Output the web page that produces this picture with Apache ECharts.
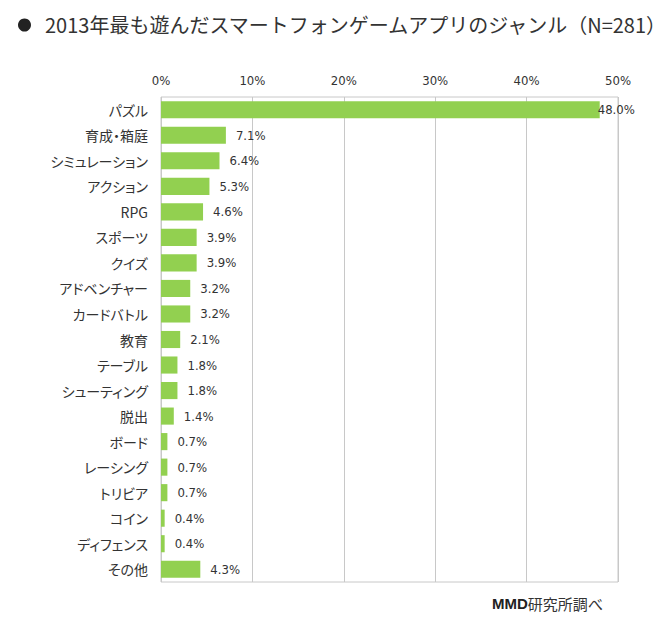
<!DOCTYPE html>
<html><head><meta charset="utf-8">
<script src="https://cdn.jsdelivr.net/npm/echarts@6/dist/echarts.min.js"></script>
<style>html,body{margin:0;padding:0;background:#fff}#c{width:672px;height:620px}
#c svg text{font-feature-settings:"palt" 1;}</style>
</head><body><div id="c"></div>
<script>
const categories = ['パズル','育成・箱庭','シミュレーション','アクション','RPG','スポーツ','クイズ','アドベンチャー','カードバトル','教育','テーブル','シューティング','脱出','ボード','レーシング','トリビア','コイン','ディフェンス','その他'];
const values = [48.0,7.1,6.4,5.3,4.6,3.9,3.9,3.2,3.2,2.1,1.8,1.8,1.4,0.7,0.7,0.7,0.4,0.4,4.3];
const tickMin = 0, tickMax = 50, tickStep = 10;
const title = '2013年最も遊んだスマートフォンゲームアプリのジャンル（N=281）';
const sourceBold = 'MMD', sourceRest = '研究所調べ';

const jp = '"Noto Sans CJK JP", "Noto Sans", sans-serif';
const num = '"Liberation Sans Narrow", "DejaVu Sans Condensed", "Liberation Sans", sans-serif';
const chart = echarts.init(document.getElementById('c'), null, {renderer:'svg'});
chart.setOption({
  animation:false,
  backgroundColor:'#fff',
  graphic:[
    {type:'circle', shape:{cx:24.5, cy:25, r:6.5}, style:{fill:'#222'}},
    {type:'text', x:45, y:24, style:{text:title, font:'20px '+jp, fill:'#333', textVerticalAlign:'middle'}},
    {type:'text', x:492, y:603, style:{textVerticalAlign:'middle', rich:{b:{fontFamily:'Arial, "Liberation Sans", sans-serif', fontWeight:'bold', fontSize:15, fill:'#222'}, r:{fontFamily:jp, fontSize:15, fill:'#333'}}, text:'{b|'+sourceBold+'}{r|'+sourceRest+'}'}}
  ],
  grid:{left:161, right:54, top:97, bottom:38, show:true, borderColor:'#c8c8c8', borderWidth:1, containLabel:false},
  xAxis:{type:'value', position:'top', min:tickMin, max:tickMax, interval:tickStep,
    axisLine:{show:false}, axisTick:{show:false},
    axisLabel:{formatter:'{value}%', color:'#333', fontFamily:num, fontSize:13, margin:10},
    splitLine:{lineStyle:{color:'#c8c8c8', width:1}}},
  yAxis:{type:'category', inverse:true, data:categories,
    axisLine:{show:false}, axisTick:{show:false},
    axisLabel:{color:'#333', fontFamily:jp, fontSize:14, margin:13}},
  series:[{type:'bar', barCategoryGap:'33%',
    itemStyle:{color:'#92d050'},
    label:{show:true, position:'right', distance:10, color:'#333', fontFamily:num, fontSize:13,
      formatter:p=>p.value.toFixed(1)+'%'},
    data:values.map(v=> v>45 ? {value:v, label:{distance:-2}} : v)
  }]
});
</script></body></html>
